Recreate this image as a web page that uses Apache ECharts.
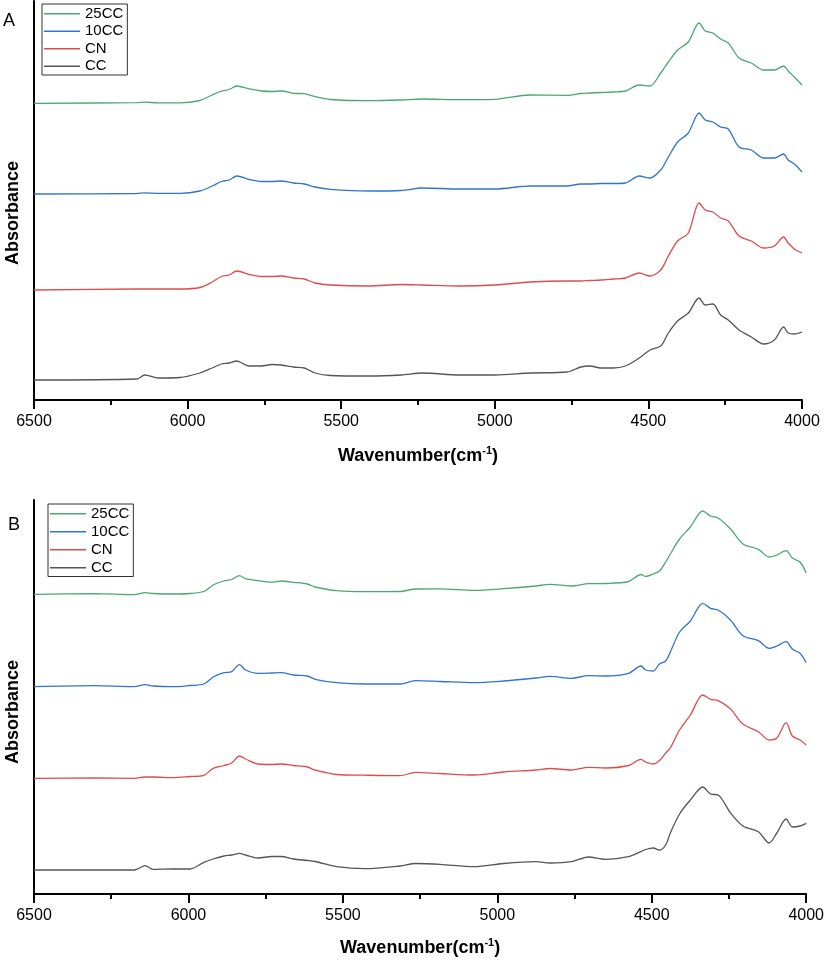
<!DOCTYPE html>
<html>
<head>
<meta charset="utf-8">
<script src="https://cdn.jsdelivr.net/npm/echarts@6/dist/echarts.min.js"></script>
<style>
html,body{margin:0;padding:0;background:#fff;}
#chart{width:827px;height:963px;}
</style>
</head>
<body>
<div id="chart"></div>
<script>
// ---- Data ----
const seriesNames = ['25CC', '10CC', 'CN', 'CC'];

// Panel A
const wavenumberA = [6500, 6165, 6140, 6095, 6025, 5960, 5920, 5890, 5865, 5840,
  5800, 5760, 5725, 5695, 5655, 5620, 5585, 5535, 5410, 5305,
  5235, 5115, 5000, 4885, 4765, 4720, 4690, 4655, 4615, 4575,
  4530, 4495, 4460, 4435, 4405, 4370, 4335, 4315, 4290, 4265,
  4240, 4205, 4165, 4125, 4090, 4060, 4045, 4025, 4000];
const cc25A = [2.967, 2.973, 2.978, 2.972, 2.972, 2.995, 3.05, 3.088, 3.105, 3.14,
  3.112, 3.09, 3.085, 3.09, 3.067, 3.063, 3.033, 3.005, 2.993, 3.00,
  3.01, 3.003, 3.007, 3.05, 3.047, 3.065, 3.07, 3.075, 3.08, 3.09,
  3.15, 3.14, 3.27, 3.38, 3.50, 3.58, 3.77, 3.69, 3.67, 3.61,
  3.57, 3.42, 3.37, 3.30, 3.30, 3.34, 3.29, 3.23, 3.15];
const cc10A = [2.06, 2.065, 2.072, 2.067, 2.067, 2.09, 2.14, 2.185, 2.20, 2.24,
  2.205, 2.185, 2.185, 2.19, 2.17, 2.16, 2.13, 2.107, 2.09, 2.095,
  2.12, 2.11, 2.11, 2.14, 2.14, 2.16, 2.16, 2.165, 2.165, 2.17,
  2.24, 2.22, 2.30, 2.43, 2.58, 2.67, 2.87, 2.80, 2.78, 2.73,
  2.71, 2.53, 2.50, 2.42, 2.42, 2.46, 2.40, 2.36, 2.28];
const cnA = [1.10, 1.11, 1.11, 1.11, 1.11, 1.125, 1.18, 1.235, 1.25, 1.29,
  1.255, 1.235, 1.235, 1.24, 1.22, 1.21, 1.17, 1.15, 1.14, 1.155,
  1.15, 1.14, 1.15, 1.18, 1.19, 1.19, 1.195, 1.20, 1.21, 1.22,
  1.27, 1.24, 1.30, 1.44, 1.59, 1.67, 1.97, 1.90, 1.88, 1.82,
  1.79, 1.64, 1.59, 1.52, 1.54, 1.63, 1.57, 1.51, 1.47];
const ccA = [0.20, 0.21, 0.25, 0.22, 0.225, 0.27, 0.32, 0.36, 0.37, 0.39,
  0.34, 0.34, 0.355, 0.35, 0.33, 0.32, 0.27, 0.245, 0.24, 0.25,
  0.27, 0.25, 0.25, 0.27, 0.28, 0.33, 0.34, 0.32, 0.32, 0.34,
  0.42, 0.50, 0.54, 0.67, 0.79, 0.87, 1.02, 0.95, 0.96, 0.85,
  0.80, 0.70, 0.63, 0.56, 0.60, 0.73, 0.67, 0.66, 0.68];

// Panel B
const wavenumberB = [6500, 6305, 6175, 6140, 6115, 6050, 5995, 5950, 5920, 5885,
  5860, 5835, 5815, 5775, 5730, 5700, 5660, 5615, 5590, 5520,
  5430, 5315, 5265, 5185, 5075, 4980, 4875, 4830, 4760, 4705,
  4650, 4575, 4535, 4520, 4495, 4475, 4455, 4440, 4410, 4375,
  4335, 4310, 4285, 4245, 4205, 4155, 4120, 4095, 4065, 4045,
  4020, 4000];
const cc25B = [2.997, 3.003, 2.993, 3.013, 3.005, 3.00, 3.005, 3.025, 3.09, 3.13,
  3.145, 3.183, 3.153, 3.133, 3.117, 3.13, 3.117, 3.10, 3.07, 3.033,
  3.023, 3.025, 3.05, 3.052, 3.037, 3.053, 3.08, 3.097, 3.08, 3.103,
  3.105, 3.125, 3.195, 3.175, 3.20, 3.23, 3.32, 3.40, 3.55, 3.67,
  3.83, 3.78, 3.76, 3.65, 3.50, 3.447, 3.37, 3.39, 3.433, 3.36,
  3.32, 3.21];
const cc10B = [2.073, 2.083, 2.073, 2.093, 2.08, 2.073, 2.085, 2.10, 2.17, 2.213,
  2.223, 2.293, 2.24, 2.207, 2.21, 2.213, 2.19, 2.18, 2.147, 2.113,
  2.10, 2.10, 2.133, 2.125, 2.113, 2.13, 2.16, 2.177, 2.157, 2.183,
  2.18, 2.207, 2.28, 2.24, 2.23, 2.30, 2.33, 2.42, 2.62, 2.73,
  2.907, 2.857, 2.84, 2.74, 2.583, 2.533, 2.457, 2.48, 2.523, 2.45,
  2.407, 2.313];
const cnB = [1.157, 1.16, 1.157, 1.17, 1.17, 1.163, 1.175, 1.187, 1.257, 1.285,
  1.31, 1.38, 1.35, 1.30, 1.295, 1.30, 1.285, 1.27, 1.24, 1.195,
  1.188, 1.183, 1.217, 1.205, 1.19, 1.22, 1.24, 1.255, 1.24, 1.267,
  1.26, 1.285, 1.347, 1.32, 1.30, 1.335, 1.41, 1.46, 1.64, 1.79,
  1.99, 1.947, 1.933, 1.85, 1.70, 1.623, 1.54, 1.56, 1.713, 1.58,
  1.54, 1.49];
const ccB = [0.24, 0.24, 0.24, 0.283, 0.247, 0.25, 0.25, 0.317, 0.35, 0.38,
  0.39, 0.407, 0.39, 0.36, 0.375, 0.375, 0.35, 0.335, 0.325, 0.273,
  0.253, 0.28, 0.305, 0.297, 0.273, 0.305, 0.323, 0.31, 0.323, 0.37,
  0.347, 0.373, 0.423, 0.445, 0.46, 0.44, 0.49, 0.61, 0.80, 0.94,
  1.07, 1.00, 0.99, 0.81, 0.68, 0.623, 0.51, 0.61, 0.75, 0.67,
  0.68, 0.707];

// ---- Styling ----
const colors = {'25CC': '#4aa873', '10CC': '#2f74d0', 'CN': '#e04a4a', 'CC': '#555555'};
const FONT = '"Liberation Sans", Arial, sans-serif';

function pairs(xs, ys) { return xs.map((x, i) => [x, ys[i]]); }

function mkSeries(name, xs, ys, idx) {
  return {
    name: name, type: 'line', xAxisIndex: idx, yAxisIndex: idx,
    data: pairs(xs, ys), symbol: 'none', smooth: 0.3,
    lineStyle: {color: colors[name], width: 1.3},
    itemStyle: {color: colors[name]},
    emphasis: {disabled: true}, animation: false
  };
}

function mkXAxis(idx, gap) {
  return {
    gridIndex: idx, type: 'value', min: 4000, max: 6500, interval: 500, inverse: true,
    splitLine: {show: false},
    axisLine: {lineStyle: {color: '#000', width: 2}},
    axisTick: {length: 9, lineStyle: {color: '#000', width: 2}},
    minorTick: {show: true, splitNumber: 2, length: 5, lineStyle: {color: '#000', width: 2}},
    axisLabel: {color: '#000', fontSize: 16, fontFamily: FONT, margin: 14,
                formatter: function (v) { return String(v); }},
    name: '{b|Wavenumber(cm}{s|-1}{b|)}',
    nameLocation: 'middle', nameGap: gap,
    nameTextStyle: {
      rich: {
        b: {fontWeight: 'bold', fontSize: 18, fontFamily: FONT, color: '#000', lineHeight: 22},
        s: {fontWeight: 'bold', fontSize: 11, fontFamily: FONT, color: '#000', verticalAlign: 'top', lineHeight: 22}
      }
    }
  };
}

function mkYAxis(idx, max) {
  return {
    gridIndex: idx, type: 'value', min: 0, max: max,
    splitLine: {show: false},
    axisLine: {show: true, onZero: false, lineStyle: {color: '#000', width: 2}},
    axisTick: {show: false}, axisLabel: {show: false}
  };
}

function mkLegend(left, top, gap) {
  return {
    data: seriesNames.map(n => ({name: n, icon: 'rect'})),
    left: left, top: top, orient: 'vertical',
    itemWidth: 36, itemHeight: 1.5, itemGap: gap,
    padding: [2, 4, 1, 2], borderColor: '#333', borderWidth: 1,
    selectedMode: false,
    textStyle: {fontSize: 15, fontFamily: FONT, color: '#000', lineHeight: 15.5}
  };
}

const chart = echarts.init(document.getElementById('chart'), null, {renderer: 'canvas'});
chart.setOption({
  backgroundColor: '#fff',
  animation: false,
  grid: [
    {left: 34, right: 25, top: 1, height: 399},
    {left: 34, right: 18, top: 500, height: 394}
  ],
  xAxis: [mkXAxis(0, 45), mkXAxis(1, 43)],
  yAxis: [mkYAxis(0, 3.99), mkYAxis(1, 3.94)],
  legend: [mkLegend(42, 4, 2), mkLegend(48, 504, 2.5)],
  series: [
    mkSeries('25CC', wavenumberA, cc25A, 0),
    mkSeries('10CC', wavenumberA, cc10A, 0),
    mkSeries('CN', wavenumberA, cnA, 0),
    mkSeries('CC', wavenumberA, ccA, 0),
    mkSeries('25CC', wavenumberB, cc25B, 1),
    mkSeries('10CC', wavenumberB, cc10B, 1),
    mkSeries('CN', wavenumberB, cnB, 1),
    mkSeries('CC', wavenumberB, ccB, 1)
  ],
  graphic: [
    {type: 'text', x: 3, y: 12, style: {text: 'A', font: '18px ' + FONT, fill: '#000'}},
    {type: 'text', x: 8, y: 516, style: {text: 'B', font: '18px ' + FONT, fill: '#000'}},
    {type: 'text', x: 13, y: 213, rotation: Math.PI / 2,
     style: {text: 'Absorbance', font: 'bold 18px ' + FONT, fill: '#000', align: 'center', verticalAlign: 'middle'}},
    {type: 'text', x: 13, y: 712, rotation: Math.PI / 2,
     style: {text: 'Absorbance', font: 'bold 18px ' + FONT, fill: '#000', align: 'center', verticalAlign: 'middle'}}
  ]
});
</script>
</body>
</html>
